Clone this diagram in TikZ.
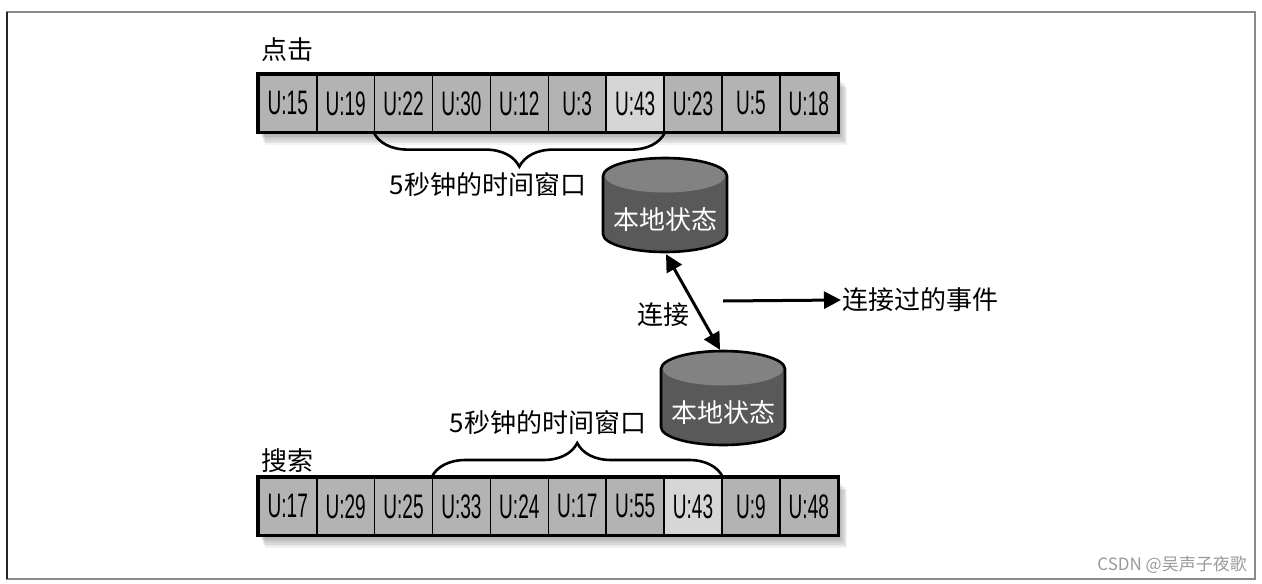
\documentclass[tikz,border=0pt]{standalone}
\usepackage{fontspec}
\setmainfont{Noto Sans CJK SC}
\newfontfamily\cjkfont{Noto Sans CJK SC}
\newfontfamily\ufont[FakeStretch=0.56]{Liberation Sans}
\usetikzlibrary{arrows.meta,decorations.pathreplacing}
\definecolor{cellgray}{HTML}{B3B3B3}
\definecolor{celllight}{HTML}{D6D6D6}
\definecolor{dbbody}{HTML}{595959}
\definecolor{dbend}{HTML}{828282}
\definecolor{framegray}{HTML}{8A8A8A}
\definecolor{markgray}{HTML}{9A9A9A}
\tikzset{
  cell/.style={draw=black, line width=1.6pt, minimum width=57.9pt, minimum height=57pt,
    inner sep=0pt, anchor=north west, font=\ufont\fontsize{34}{34}\selectfont},
  rowframe/.style={draw=black, line width=3.2pt},
  bracestyle/.style={decorate, decoration={brace, amplitude=34pt, aspect=0.5}, line width=2.6pt},
  lbl/.style={font=\cjkfont\fontsize{26}{26}\selectfont, inner sep=1pt},
  dbbox/.style={minimum width=124pt, minimum height=94pt, inner sep=0pt},
  dbtext/.style={text=white, font=\cjkfont\fontsize{26}{26}\selectfont, inner sep=0pt},
  conn/.style={line width=3pt, draw=black},
  tip/.tip={Triangle[length=17pt,width=17pt]},
  dbcyl/.pic={
    \fill[dbbody] (-62,-29) -- (-62,29) arc[start angle=180, end angle=0, x radius=62, y radius=18]
      -- (62,-29) arc[start angle=0, end angle=-180, x radius=62, y radius=18] -- cycle;
    \fill[dbend] (0,-29) ellipse[x radius=60, y radius=16.5];
    \draw[black, line width=2.6pt, line join=round] (-62,-29) -- (-62,29) arc[start angle=180, end angle=0, x radius=62, y radius=18]
      -- (62,-29) arc[start angle=0, end angle=-180, x radius=62, y radius=18] -- cycle;
  },
}
\begin{document}
\begin{tikzpicture}[x=1pt,y=-1pt]
\useasboundingbox (0,0) rectangle (1262,584);
\draw[framegray, line width=1.3pt] (7,12) rectangle (1255,579);
\draw[black!85, line width=1.3pt] (7,12) -- (7,579);

% shadows
\foreach \i in {1,...,8} {
  \fill[black, opacity=0.05] (259+\i*0.7, 75+\i*1.5) rectangle (838+\i*1.1, 132+\i*1.6);
  \fill[black, opacity=0.05] (259+\i*0.7, 478+\i*1.5) rectangle (838+\i*1.1, 535+\i*1.6);
}

% top row
\foreach \t/\f [count=\i] in {U:15/cellgray, U:19/cellgray, U:22/cellgray, U:30/cellgray, U:12/cellgray, U:3/cellgray, U:43/celllight, U:23/cellgray, U:5/cellgray, U:18/cellgray}
  \node[cell, fill=\f] (c\i) at ({258+(\i-1)*57.9}, 74) {\t};
\draw[rowframe] (c1.north west) rectangle (c10.south east);

% bottom row
\foreach \t/\f [count=\i] in {U:17/cellgray, U:29/cellgray, U:25/cellgray, U:33/cellgray, U:24/cellgray, U:17/cellgray, U:55/cellgray, U:43/celllight, U:9/cellgray, U:48/cellgray}
  \node[cell, fill=\f] (s\i) at ({258+(\i-1)*57.9}, 477) {\t};
\draw[rowframe] (s1.north west) rectangle (s10.south east);

% labels
\node[lbl] (click) at (287,50) {点击};
\node[lbl] (search) at (287,461) {搜索};

% braces
\draw[bracestyle] (c7.south east) -- (c3.south west);
\draw[bracestyle] (s4.north west) -- (s8.north east);
\node[lbl] (w1) at (488,185) {5秒钟的时间窗口};
\node[lbl] (w2) at (548,423) {5秒钟的时间窗口};

% local states
\node[dbbox] (st1) at (665,205) {};
\pic at (st1.center) {dbcyl};
\node[dbtext] (st1t) at ([yshift=-15pt]st1.center) {本地状态};
\node[dbbox] (st2) at (723,398) {};
\pic at (st2.center) {dbcyl};
\node[dbtext] (st2t) at ([yshift=-15pt]st2.center) {本地状态};

% join
\draw[conn, tip-tip] ([xshift=1pt,yshift=-2pt]st1.south) -- ([xshift=-3pt,yshift=1pt]st2.north);
\node[lbl] (join) at (663,315) {连接};
\coordinate (ja) at (723,301);
\node[lbl, anchor=west] (ev) at (841,300) {连接过的事件};
\draw[conn, -tip] (ja) -- (ev.west);

% watermark
\node[font=\cjkfont\fontsize{17}{17}\selectfont, text=markgray, anchor=east, inner sep=0pt] (wm) at (1247,565) {CSDN @吴声子夜歌};
\end{tikzpicture}
\end{document}
